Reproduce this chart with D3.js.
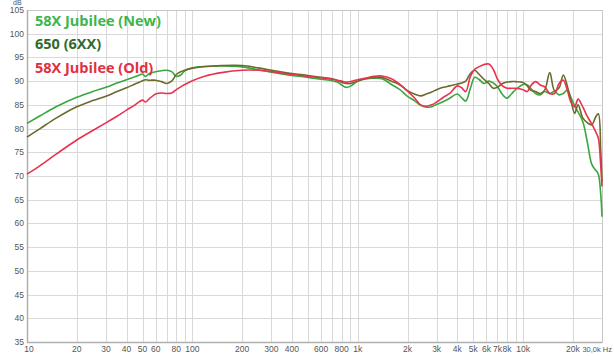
<!DOCTYPE html>
<html><head><meta charset="utf-8">
<script src="https://cdn.jsdelivr.net/npm/d3@7"></script>
<style>html,body{margin:0;padding:0;background:#fff;}svg{display:block;}</style>
</head><body>
<svg id="c" width="614" height="356"></svg>
<script>
const freqs = [10,12,15,20,25,30,35,40,45,48,50,52,55,60,65,70,75,80,85,90,100,120,150,200,250,300,400,500,600,700,750,800,850,900,1000,1100,1250,1400,1600,1800,2000,2200,2400,2600,2800,3000,3300,3600,4000,4250,4500,4800,5100,5400,5800,6200,6600,7000,7500,8000,8500,9000,10000,10600,11100,11900,12700,13500,14500,15500,16500,17500,18500,19500,20500,21500,23000,24500,26000,27500,28500,29500,30000];
const newVals = [81.1,82.7,84.6,86.6,87.8,88.7,89.6,90.3,90.9,91.3,91.5,91.0,91.6,92.0,92.2,92.3,92.0,91.0,91.3,92.2,92.8,93.1,93.2,93.0,92.4,91.9,91.2,90.8,90.4,90.1,89.8,89.2,88.7,88.9,90.0,90.4,90.6,90.5,89.3,88.2,86.8,85.9,84.9,84.5,84.6,85.1,85.7,86.4,87.3,86.5,85.8,88.5,90.8,90.4,89.5,90.0,89.6,88.8,87.2,86.4,87.3,88.2,89.3,89.2,88.5,87.4,87.1,87.8,87.4,87.8,87.1,87.4,88.1,86.5,84.8,83.5,81.4,77.0,72.5,71.2,70.4,66.0,61.4];
const sixVals = [78.2,80.0,82.2,84.6,85.9,86.8,87.8,88.6,89.4,89.8,90.1,90.3,90.2,90.2,89.9,89.5,90.0,91.4,92.0,92.3,92.7,93.1,93.3,93.3,92.8,92.3,91.6,91.2,90.8,90.5,90.2,89.7,89.5,89.5,90.0,90.5,90.8,90.8,90.0,89.2,88.0,87.3,86.9,87.3,87.7,88.2,88.7,89.0,89.4,89.6,90.0,91.6,92.3,91.5,90.4,89.5,88.5,88.7,89.5,89.8,89.9,89.9,89.7,89.0,88.1,87.8,87.4,88.1,91.8,88.0,88.6,91.3,89.0,85.8,83.2,85.0,82.2,81.2,80.8,82.5,83.1,75.0,68.7];
const oldVals = [70.4,72.2,74.6,77.6,79.6,81.2,82.6,83.9,85.0,85.7,86.0,85.6,86.3,87.3,87.5,87.4,87.5,88.2,88.8,89.3,90.1,91.1,91.8,92.3,92.3,92.0,91.4,91.0,90.7,90.4,90.2,90.0,89.8,89.9,90.3,90.6,91.0,91.1,90.5,89.3,87.9,86.5,85.0,84.7,85.0,85.6,86.6,87.4,89.0,88.6,87.8,91.0,92.5,93.0,93.5,93.6,92.5,90.4,89.0,88.5,88.5,88.5,88.2,87.8,89.0,89.9,89.2,88.8,87.4,87.4,89.5,90.2,88.1,85.5,84.6,86.2,84.5,82.5,81.0,79.3,78.0,72.0,67.8];
const seriesNames = ["58X Jubilee (New)","650 (6XX)","58X Jubilee (Old)"];
const yTickLabels = [35,40,45,50,55,60,65,70,75,80,85,90,95,100,105];
const xGrid = [10,20,30,40,50,60,70,80,90,100,200,300,400,500,600,700,800,900,1000,2000,3000,4000,5000,6000,7000,8000,9000,10000,20000,30000];
const xTickValues = [10,20,30,40,50,60,80,100,200,300,400,600,800,1000,2000,3000,4000,5000,6000,7000,8000,10000,20000,30000];
const xTickLabels = ["10","20","30","40","50","60","80","100","200","300","400","600","800","1k","2k","3k","4k","5k","6k","7k","8k","10k","20k","30,0k Hz"];

const lineColors = ["#3aa63e","#6b6a2c","#e8334f"];
const textColors = ["#3db54a","#2f6a2c","#e0303f"];

const svg = d3.select("#c");
const L=27, R=602, T=10, B=342;
const x = d3.scaleLog().domain([10,30000]).range([L,R]);
const y = d3.scaleLinear().domain([35,105]).range([B,T]);
const tickFont = "'Liberation Sans', Arial, sans-serif";

// grid
const g = svg.append("g");
g.selectAll(".hg").data(yTickLabels).enter().append("line")
 .attr("x1",L).attr("x2",R).attr("y1",d=>Math.round(y(d))+0.5).attr("y2",d=>Math.round(y(d))+0.5)
 .attr("stroke","#d9d9d9").attr("stroke-width",1);
g.selectAll(".vg").data(xGrid).enter().append("line")
 .attr("y1",T).attr("y2",B).attr("x1",d=>Math.round(x(d))+0.5).attr("x2",d=>Math.round(x(d))+0.5)
 .attr("stroke","#d9d9d9").attr("stroke-width",1);
// frame
svg.append("rect").attr("x",L+0.5).attr("y",T+0.5).attr("width",R-L).attr("height",B-T)
 .attr("fill","none").attr("stroke","#c8c8c8");
svg.append("line").attr("x1",L+0.5).attr("x2",L+0.5).attr("y1",T).attr("y2",B+1).attr("stroke","#b0b0b0").attr("stroke-width",1.5);
svg.append("line").attr("x1",L).attr("x2",R).attr("y1",B+0.5).attr("y2",B+0.5).attr("stroke","#b0b0b0").attr("stroke-width",1.5);

// y labels
svg.selectAll(".yl").data(yTickLabels).enter().append("text")
 .attr("x",L-3).attr("y",d=>y(d)+3).attr("text-anchor","end")
 .attr("font-family",tickFont).attr("font-size",8.5).attr("fill","#555")
 .text(d=>d);
svg.append("text").attr("x",13).attr("y",5).attr("font-family",tickFont)
 .attr("font-size",7).attr("fill","#555").text("dB");

// x labels
svg.selectAll(".xl").data(xTickValues).enter().append("text")
 .attr("x",(d,i)=>i===xTickValues.length-1?612:x(d)+(i===0?2:0)).attr("y",352)
 .attr("text-anchor",(d,i)=>i===xTickValues.length-1?"end":"middle")
 .attr("font-family",tickFont).attr("font-size",(d,i)=>i===xTickValues.length-1?7.5:8.5).attr("fill","#555")
 .text((d,i)=>xTickLabels[i]);

// lines
const allVals=[newVals,sixVals,oldVals];
const line = d3.line().x(d=>x(d[0])).y(d=>y(d[1])).curve(d3.curveCatmullRom.alpha(0.5));
allVals.forEach((vals,i)=>{
  svg.append("path").datum(freqs.map((f,j)=>[f,vals[j]]))
   .attr("d",line).attr("fill","none").attr("stroke",lineColors[i]).attr("stroke-width",1.6)
   .attr("stroke-linejoin","round");
});

// legend
seriesNames.forEach((n,i)=>{
  svg.append("text").attr("x",35).attr("y",25.5+i*23.5)
   .attr("font-family","'Open Sans', sans-serif").attr("font-weight","bold").attr("font-size",14.5)
   .attr("fill",textColors[i]).text(n);
});
</script>
</body></html>
